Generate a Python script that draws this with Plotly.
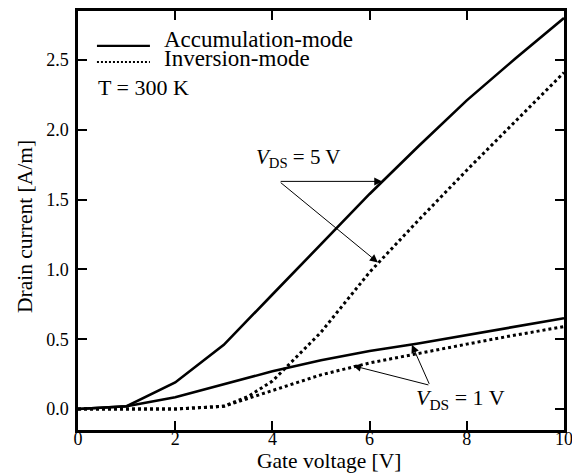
import plotly.graph_objects as go

# ---- data ----
vg = [0, 1, 2, 3, 4, 5, 6, 7, 8, 9, 10]
acc_5v = [0.0, 0.02, 0.19, 0.46, 0.82, 1.18, 1.54, 1.88, 2.21, 2.51, 2.80]
acc_1v = [0.0, 0.02, 0.085, 0.18, 0.27, 0.35, 0.415, 0.47, 0.53, 0.59, 0.65]
vg_inv5 = [0, 1, 2, 3, 3.5, 4, 5, 6, 7, 8, 9, 10]
inv_5v = [0.0, 0.0, 0.0, 0.02, 0.09, 0.20, 0.55, 0.98, 1.35, 1.71, 2.06, 2.41]
inv_1v = [0.0, 0.0, 0.0, 0.02, 0.13, 0.245, 0.33, 0.40, 0.465, 0.53, 0.59]

x_ticks = [0, 2, 4, 6, 8, 10]
y_ticks = [0.0, 0.5, 1.0, 1.5, 2.0, 2.5]
y_ticklabels = ["0.0", "0.5", "1.0", "1.5", "2.0", "2.5"]

legend_labels = ["Accumulation-mode", "Inversion-mode"]
temp_label = "T = 300 K"
x_title = "Gate voltage [V]"
y_title = "Drain current [A/m]"

FONT = "Liberation Serif, Times New Roman, serif"

fig = go.Figure()
fig.add_trace(go.Scatter(x=vg, y=acc_5v, mode="lines", line=dict(color="black", width=2.6),
                         name=legend_labels[0], showlegend=False))
fig.add_trace(go.Scatter(x=vg, y=acc_1v, mode="lines", line=dict(color="black", width=2.6),
                         name=legend_labels[0], showlegend=False))
fig.add_trace(go.Scatter(x=vg_inv5, y=inv_5v, mode="lines",
                         line=dict(color="black", width=3, dash="3px,3px"),
                         name=legend_labels[1], showlegend=False))
fig.add_trace(go.Scatter(x=vg, y=inv_1v, mode="lines",
                         line=dict(color="black", width=3, dash="3px,3px"),
                         name=legend_labels[1], showlegend=False))

# legend samples (shapes) and labels
fig.add_shape(type="line", x0=0.39, x1=1.48, y0=2.60, y1=2.60, xref="x", yref="y",
              line=dict(color="black", width=2.2))
fig.add_shape(type="line", x0=0.39, x1=1.48, y0=2.485, y1=2.485, xref="x", yref="y",
              line=dict(color="black", width=2.2, dash="2px,2px"))
fig.add_annotation(x=1.72, y=2.645, xref="x", yref="y", text=legend_labels[0], showarrow=False,
                   xanchor="left", yanchor="middle", font=dict(family=FONT, size=23, color="black"))
fig.add_annotation(x=1.72, y=2.51, xref="x", yref="y", text=legend_labels[1], showarrow=False,
                   xanchor="left", yanchor="middle", font=dict(family=FONT, size=23, color="black"))
fig.add_annotation(x=0.38, y=2.30, xref="x", yref="y", text=temp_label, showarrow=False,
                   xanchor="left", yanchor="middle", font=dict(family=FONT, size=22, color="black"))

# V_DS labels
vds5_text = "<i>V</i><sub>DS</sub> = 5 V"
vds1_text = "<i>V</i><sub>DS</sub> = 1 V"
fig.add_annotation(x=4.53, y=1.80, xref="x", yref="y", text=vds5_text, showarrow=False,
                   font=dict(family=FONT, size=21, color="black"))
fig.add_annotation(x=7.88, y=0.075, xref="x", yref="y", text=vds1_text, showarrow=False,
                   font=dict(family=FONT, size=22, color="black"))

arrows = [
    # (tip x, tip y, start x, start y)
    (6.26, 1.63, 4.14, 1.63),
    (6.17, 1.05, 4.14, 1.63),
    (6.87, 0.46, 7.24, 0.17),
    (5.66, 0.31, 7.24, 0.17),
]
for tx, ty, sx, sy in arrows:
    fig.add_annotation(x=tx, y=ty, ax=sx, ay=sy, xref="x", yref="y", axref="x", ayref="y",
                       text="", showarrow=True, arrowhead=2, arrowsize=1.6, arrowwidth=1,
                       arrowcolor="black", standoff=0, startstandoff=0)

# axis titles
fig.add_annotation(x=0.516, y=-0.074, xref="paper", yref="paper", text=x_title, showarrow=False,
                   xanchor="center", yanchor="middle", font=dict(family=FONT, size=21.5, color="black"))
fig.add_annotation(x=-0.109, y=0.4845, xref="paper", yref="paper", text=y_title, showarrow=False,
                   textangle=-90, xanchor="center", yanchor="middle",
                   font=dict(family=FONT, size=21.5, color="black"))

axis_common = dict(
    showline=True, linecolor="black", linewidth=2.5, mirror="ticks",
    ticks="inside", ticklen=9, tickwidth=1.5, tickcolor="black",
    showgrid=False, zeroline=False,
    tickfont=dict(family=FONT, size=18, color="black"),
)

fig.update_xaxes(range=[0, 10], tickvals=x_ticks, ticktext=[str(v) for v in x_ticks],
                 ticklabeloverflow="allow", ticklabelstandoff=-9, **axis_common)
fig.update_yaxes(range=[-0.15, 2.85], tickvals=y_ticks, ticktext=y_ticklabels,
                 ticklabelstandoff=3, **axis_common)

fig.update_layout(
    width=572, height=474,
    margin=dict(l=78, r=8, t=11, b=44, autoexpand=False),
    plot_bgcolor="white", paper_bgcolor="white",
    showlegend=False,
)

fig.write_html("out.html")
